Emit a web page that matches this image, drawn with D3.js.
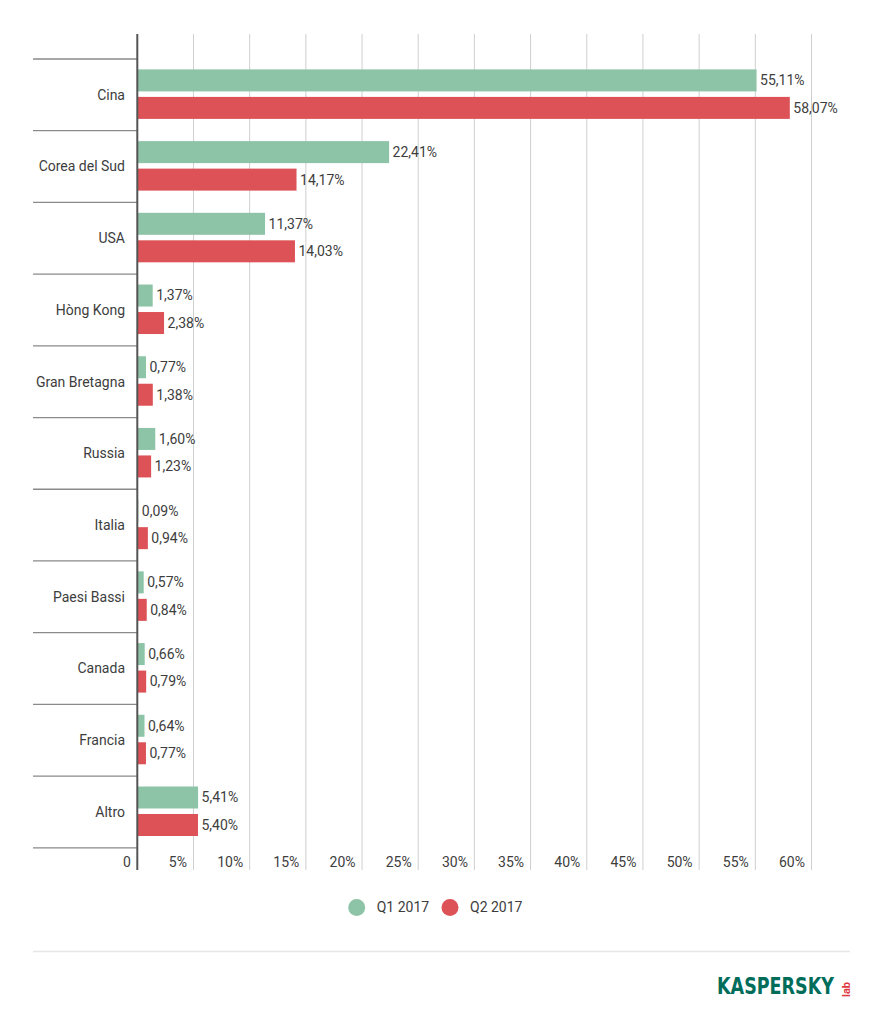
<!DOCTYPE html>
<html>
<head>
<meta charset="utf-8">
<script src="https://cdn.jsdelivr.net/npm/d3@7"></script>
<style>
  html, body { margin: 0; padding: 0; background: #fff; }
  svg { display: block; font-family: Roboto, "Noto Sans", sans-serif; }
</style>
</head>
<body>
<svg id="chart" width="883" height="1024"></svg>
<script>
const categories = ["Cina", "Corea del Sud", "USA", "Hòng Kong", "Gran Bretagna", "Russia", "Italia", "Paesi Bassi", "Canada", "Francia", "Altro"];
const seriesNames = ["Q1 2017", "Q2 2017"];
const q1Values = [55.11, 22.41, 11.37, 1.37, 0.77, 1.60, 0.09, 0.57, 0.66, 0.64, 5.41];
const q2Values = [58.07, 14.17, 14.03, 2.38, 1.38, 1.23, 0.94, 0.84, 0.79, 0.77, 5.40];
const tickValues = [0, 5, 10, 15, 20, 25, 30, 35, 40, 45, 50, 55, 60];
const seriesColors = ["#8dc4a7", "#dd5257"];

const svg = d3.select("#chart");
const textColor = "#3d3d3d";

const x = d3.scaleLinear().domain([0, 60]).range([137.3, 811.5]);
const y = d3.scaleBand().domain(categories).range([59, 847.8]).padding(0);
const ys = d3.scaleBand().domain(seriesNames).range([10.4, 59.9]).paddingInner(0.2);

const gridTop = 34, gridBottom = 870;

// grid lines
svg.append("g").selectAll("line").data(tickValues.filter(d => d > 0)).join("line")
  .attr("x1", d => x(d)).attr("x2", d => x(d))
  .attr("y1", gridTop).attr("y2", gridBottom)
  .attr("stroke", "#cfcfcf").attr("stroke-width", 1);

// category separators
const bounds = categories.map(c => y(c)).concat([y(categories[categories.length - 1]) + y.bandwidth()]);
svg.append("g").selectAll("line").data(bounds).join("line")
  .attr("x1", 33).attr("x2", x(0))
  .attr("y1", d => d).attr("y2", d => d)
  .attr("stroke", "#8a8a8a").attr("stroke-width", 1.3);

// bars
const rows = categories.map((c, i) => ({ cat: c, vals: [q1Values[i], q2Values[i]] }));
const barG = svg.append("g");
rows.forEach(r => {
  r.vals.forEach((v, j) => {
    const yy = y(r.cat) + ys(seriesNames[j]);
    barG.append("rect")
      .attr("x", x(0))
      .attr("y", yy)
      .attr("width", Math.max(0.8, x(v) - x(0)))
      .attr("height", ys.bandwidth())
      .attr("fill", seriesColors[j]);
    barG.append("text")
      .attr("x", x(v) + 3.5)
      .attr("y", yy + ys.bandwidth() / 2)
      .attr("dy", "0.35em")
      .attr("font-size", 14)
      .attr("fill", textColor)
      .text(v.toFixed(2).replace(".", ",") + "%");
  });
});

// category labels
svg.append("g").selectAll("text").data(categories).join("text")
  .attr("x", 125)
  .attr("y", d => y(d) + y.bandwidth() / 2)
  .attr("dy", "0.35em")
  .attr("text-anchor", "end")
  .attr("font-size", 14)
  .attr("fill", textColor)
  .text(d => d);

// y axis line
svg.append("line")
  .attr("x1", x(0)).attr("x2", x(0))
  .attr("y1", gridTop).attr("y2", gridBottom)
  .attr("stroke", "#555").attr("stroke-width", 2);

// x tick labels
svg.append("g").selectAll("text").data(tickValues).join("text")
  .attr("x", d => x(d) - 6.5)
  .attr("y", 867)
  .attr("text-anchor", "end")
  .attr("font-size", 14)
  .attr("fill", textColor)
  .text(d => d === 0 ? "0" : d + "%");

// legend
const legendItems = [{ name: seriesNames[0], cx: 356.7 }, { name: seriesNames[1], cx: 450 }];
const lg = svg.append("g");
legendItems.forEach((it, j) => {
  lg.append("circle").attr("cx", it.cx).attr("cy", 907.5).attr("r", 8.5).attr("fill", seriesColors[j]);
  lg.append("text").attr("x", it.cx + 20).attr("y", 907.5).attr("dy", "0.35em")
    .attr("font-size", 14).attr("fill", textColor).text(it.name);
});

// footer separator
svg.append("line").attr("x1", 33).attr("x2", 850).attr("y1", 951.5).attr("y2", 951.5)
  .attr("stroke", "#e6e6e6").attr("stroke-width", 1.5);

// logo
svg.append("text").attr("x", 717).attr("y", 994)
  .attr("font-size", 23).attr("font-weight", "bold")
  .attr("font-family", "'Liberation Sans Narrow', 'DejaVu Sans Condensed', Roboto, sans-serif")
  .attr("textLength", 117).attr("lengthAdjust", "spacingAndGlyphs")
  .attr("fill", "#006d5b").text("KASPERSKY");
svg.append("text")
  .attr("transform", "translate(850,997) rotate(-90)")
  .attr("font-size", 11).attr("font-weight", "bold")
  .attr("fill", "#e0383e").text("lab");
</script>
</body>
</html>
